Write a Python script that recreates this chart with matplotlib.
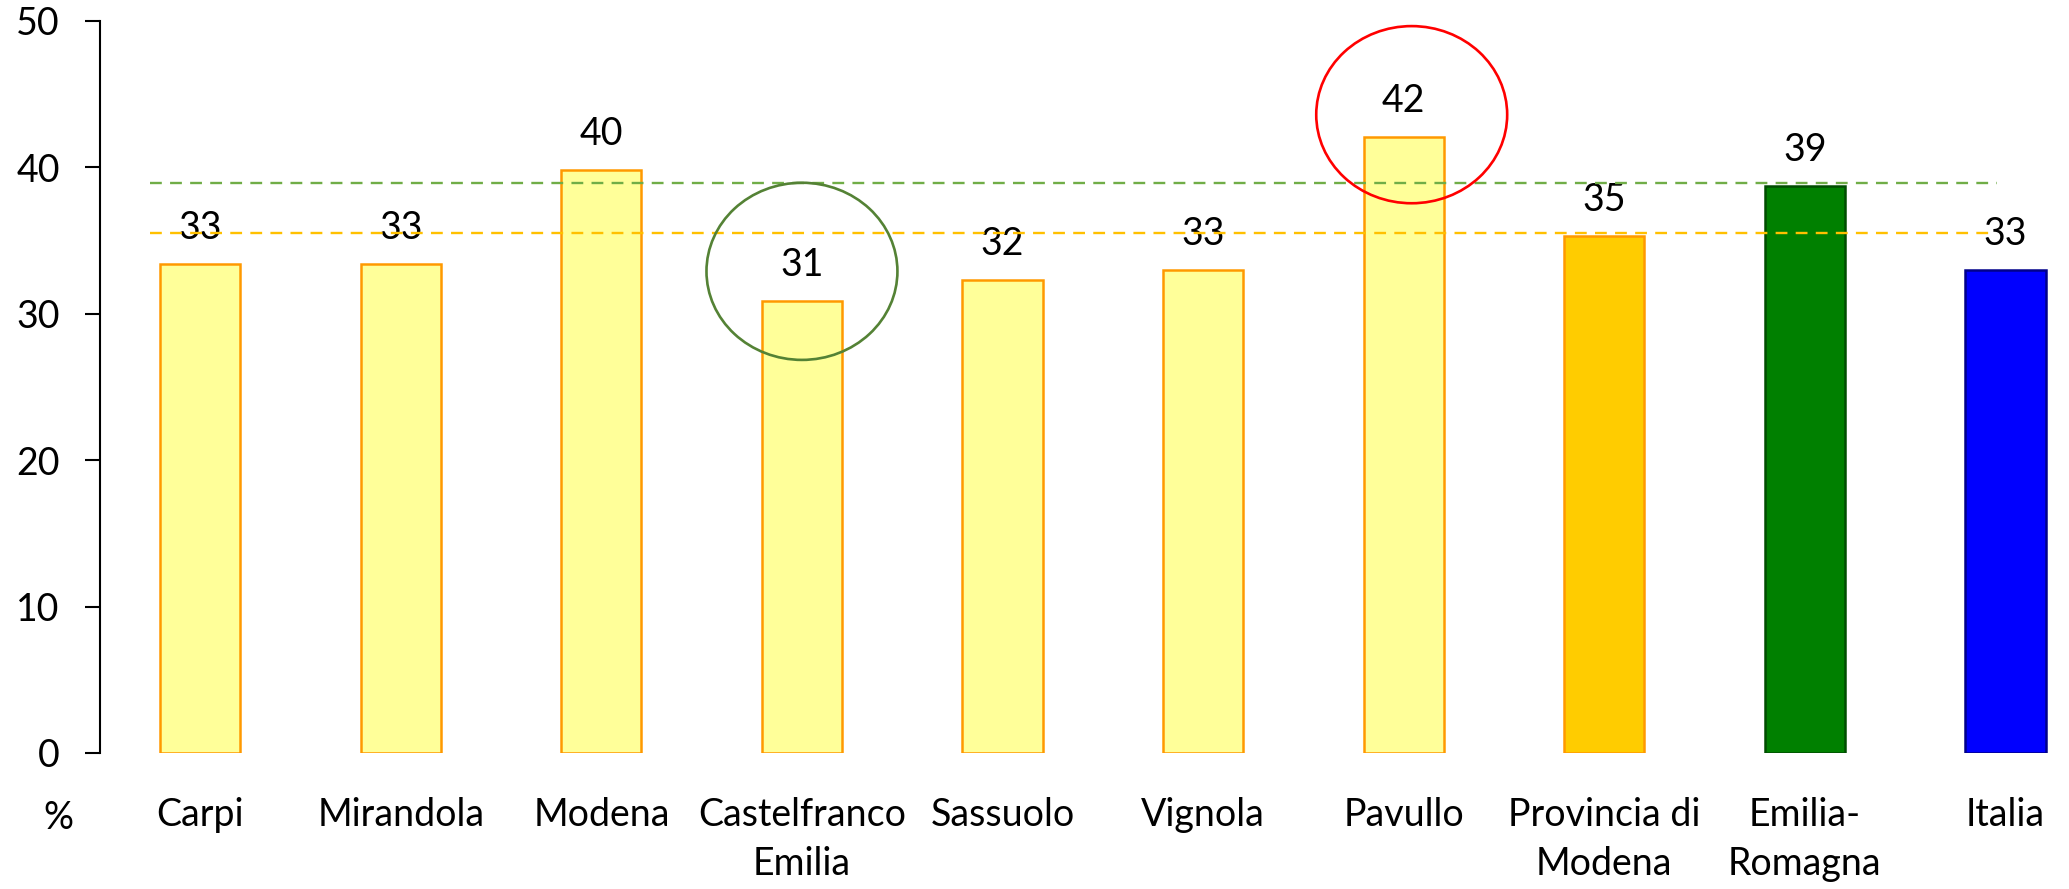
import matplotlib.pyplot as plt
from matplotlib.patches import Ellipse

# data
areas = ["Carpi", "Mirandola", "Modena", "Castelfranco\nEmilia", "Sassuolo",
         "Vignola", "Pavullo", "Provincia di\nModena", "Emilia-\nRomagna", "Italia"]
values = [33.4, 33.4, 39.8, 30.9, 32.3, 33.0, 42.1, 35.3, 38.7, 33.0]
labels = ["33", "33", "40", "31", "32", "33", "42", "35", "39", "33"]
regionLine = 38.9    # green dashed reference (Emilia-Romagna)
provinceLine = 35.5  # orange dashed reference (Provincia)
yTicks = [0, 10, 20, 30, 40, 50]

faceColors = ["#FFFF99"] * 7 + ["#FFCC00", "#008000", "#0000FF"]
edgeColors = ["#FF9900"] * 8 + ["#004D00", "#00008B"]

plt.rcParams['font.family'] = ['Lato', 'DejaVu Sans']
fig = plt.figure(figsize=(20.69, 8.89), dpi=100)
ax = fig.add_axes([0.0483, 0.153, 0.9517, 0.8234])

x = list(range(len(areas)))
ax.bar(x, values, width=0.4, color=faceColors, edgecolor=edgeColors, linewidth=1.8)

for xi, v, lab in zip(x, values, labels):
	ax.annotate(lab, (xi, v), xytext=(0, 18), textcoords="offset points",
				ha="center", va="baseline", fontsize=27)

# reference lines
ax.plot([-0.25, 8.96], [regionLine, regionLine], color="#70AD47", lw=1.7,
		dashes=(5, 3.5), zorder=3)
ax.plot([-0.25, 8.93], [provinceLine, provinceLine], color="#FFC000", lw=1.7,
		dashes=(5, 3.5), zorder=3)

# highlight circles
ax.add_patch(Ellipse((3, 32.9), 0.952, 12.1, fill=False, edgecolor="#548235",
					 lw=1.9, zorder=4, clip_on=False))
ax.add_patch(Ellipse((6.04, 43.6), 0.952, 12.1, fill=False, edgecolor="#FF0000",
					 lw=1.9, zorder=4, clip_on=False))

ax.set_xlim(-0.5, 9.317)
ax.set_ylim(0, 50)
ax.set_yticks(yTicks)
ax.set_xticks(x)
ax.set_xticklabels(areas, fontsize=27, linespacing=1.45)
ax.tick_params(axis="x", length=0, pad=32)
ax.tick_params(axis="y", length=11, width=1.5, pad=18, labelsize=27)
for s in ["top", "right", "bottom"]:
	ax.spines[s].set_visible(False)
ax.spines["left"].set_linewidth(1.5)

fig.text(58 / 2069, 1 - 818 / 889, "%", ha="center", va="center", fontsize=27)

plt.savefig("out.png", dpi=100)
plt.close()
